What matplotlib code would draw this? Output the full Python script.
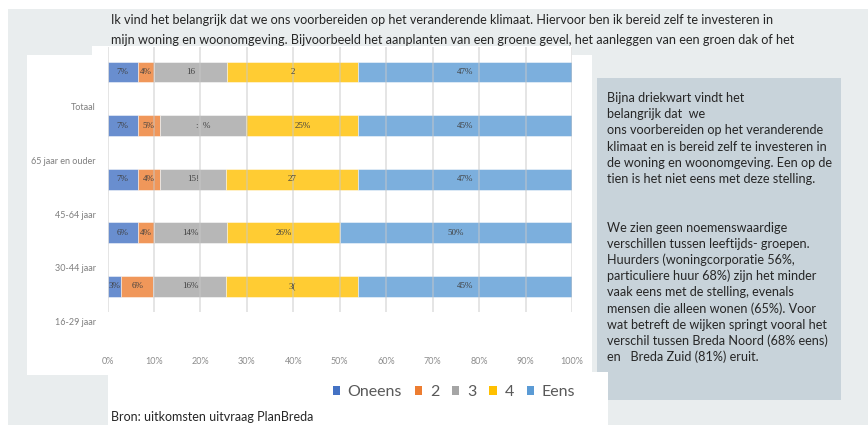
import numpy as np
import matplotlib.pyplot as plt
from matplotlib.patches import Rectangle, Patch
from matplotlib.transforms import blended_transform_factory

# ---- data (percentages per answer) ----
groups = ["Totaal", "65 jaar en ouder", "45-64 jaar", "30-44 jaar", "16-29 jaar"]
answers = ["Oneens", "2", "3", "4", "Eens"]

oneens = [6.5, 6.5, 6.5, 6.5, 3.0]
twee = [3.5, 4.7, 4.7, 3.5, 6.9]
drie = [15.7, 18.7, 14.3, 15.7, 15.7]
vier = [28.3, 24.1, 28.5, 24.3, 28.4]
eens = [46.0, 46.0, 46.0, 50.0, 46.0]

# data labels as they show in the picture (some are cut off)
labels_oneens = ["7%", "7%", "7%", "6%", "3%"]
labels_twee = ["4%", "5%", "4%", "4%", "6%"]
labels_drie = ["16", ":  %", "15!", "14%", "16%"]
labels_vier = ["2", "25%", "27", "26%", "3("]
labels_eens = ["47%", "45%", "47%", "50%", "45%"]

xticks = [0, 10, 20, 30, 40, 50, 60, 70, 80, 90, 100]

top_text = [
    "Ik vind het belangrijk dat we ons voorbereiden op het veranderende klimaat. Hiervoor ben ik bereid zelf te investeren in",
    "mijn woning en woonomgeving. Bijvoorbeeld het aanplanten van een groene gevel, het aanleggen van een groen dak of het",
]
box_text = [
    "Bijna driekwart vindt het",
    "belangrijk dat  we",
    "ons voorbereiden op het veranderende",
    "klimaat en is bereid zelf te investeren in",
    "de woning en woonomgeving. Een op de",
    "tien is het niet eens met deze stelling.",
    "",
    "",
    "We zien geen noemenswaardige",
    "verschillen tussen leeftijds- groepen.",
    "Huurders (woningcorporatie 56%,",
    "particuliere huur 68%) zijn het minder",
    "vaak eens met de stelling, evenals",
    "mensen die alleen wonen (65%). Voor",
    "wat betreft de wijken springt vooral het",
    "verschil tussen Breda Noord (68% eens)",
    "en   Breda Zuid (81%) eruit.",
]
bron = "Bron: uitkomsten uitvraag PlanBreda"

colors = ["#4472C4", "#ED7D31", "#A5A5A5", "#FFC000", "#5B9BD5"]

W, H = 868, 425
fig = plt.figure(figsize=(W / 100, H / 100), dpi=100)
fig.patch.set_facecolor("#e9edee")


def px(x, y):
    return x / W, 1 - y / H


def box(x0, y0, x1, y1, color, z=0):
    fig.patches.append(Rectangle(px(x0, y1), (x1 - x0) / W, (y1 - y0) / H,
                                 transform=fig.transFigure, facecolor=color,
                                 edgecolor="none", zorder=z))


# page background pieces
box(0, 0, W, 9, "white")
box(0, 0, 8, H, "white")
box(27, 55, 592, 375, "white", z=2)
box(92, 46, 572, 56, "white", z=2)
box(597, 78, 841, 400, "#c8d3da", z=2)
box(108, 372, 608, H, "white", z=2)

txt_font = ["Lato", "DejaVu Sans"]
for i, line in enumerate(top_text):
    fig.text(*px(111, 20 + i * 20), line, fontsize=9.1, family=txt_font,
             color="#262626", va="center", ha="left", zorder=1)

for i, line in enumerate(box_text):
    fig.text(*px(607, 98 + i * 16.2), line, fontsize=9.1, family=txt_font,
             color="#262626", va="center", ha="left", zorder=3)

fig.text(*px(111, 421), bron, fontsize=9.0, family=txt_font, color="#262626",
         va="baseline", ha="left", zorder=3)

# ---- the chart ----
ax = fig.add_axes([107.5 / W, 1 - 312 / H, (572 - 107.5) / W, (312 - 47) / H])
ax.set_facecolor("none")
ax.set_zorder(5)

series = [oneens, twee, drie, vier, eens]
series_labels = [labels_oneens, labels_twee, labels_drie, labels_vier, labels_eens]
ypos = np.arange(len(groups))
left = np.zeros(len(groups))
for vals, labs, col in zip(series, series_labels, colors):
    vals = np.array(vals)
    ax.barh(ypos, vals, left=left, height=0.39, color=col, alpha=0.8,
            edgecolor="white", linewidth=0.4, zorder=1)
    for y, l, v, lab in zip(ypos, left, vals, labs):
        ax.text(l + v / 2, y, lab, ha="center", va="center", fontsize=6.5,
                family="Liberation Serif", color="#404040", zorder=4)
    left += vals

ax.set_xlim(0, 100)
ax.set_ylim(4.478, -0.466)
ax.set_xticks(xticks)
ax.set_xticklabels([f"{t}%" for t in xticks], fontsize=6.5, family=txt_font,
                   color="#8c8c8c")
ax.tick_params(axis="x", length=0, pad=32.5)
ax.set_yticks([])
for s in ax.spines.values():
    s.set_visible(False)
ax.set_axisbelow(False)
ax.grid(axis="x", color="#c8c8c8", alpha=0.6, linewidth=1.1)

trans = blended_transform_factory(ax.transAxes, ax.transData)
for y, g in zip(ypos, groups):
    ax.text(-0.025, y + 0.67, g, transform=trans, ha="right", va="center",
            fontsize=6.5, family=txt_font, color="#7f7f7f", clip_on=False)

handles = [Patch(facecolor=c, edgecolor="none") for c in colors]
leg = fig.legend(handles, answers, loc="center", bbox_to_anchor=px(454, 392),
                 ncol=5, frameon=False, handlelength=0.45,
                 handleheight=0.45, handletextpad=0.5, columnspacing=0.8,
                 prop={"family": txt_font, "size": 11.5})
for t in leg.get_texts():
    t.set_color("#595959")
leg.set_zorder(6)

fig.savefig("out.png", dpi=100, facecolor=fig.get_facecolor())
